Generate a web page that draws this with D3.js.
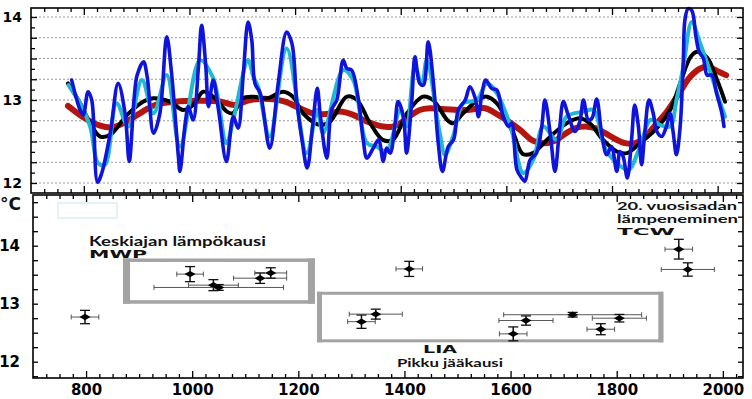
<!DOCTYPE html>
<html>
<head>
<meta charset="utf-8">
<script src="https://cdn.jsdelivr.net/npm/d3@7"></script>
<style>
  body { margin: 0; background: #fff; }
  svg { display: block; }
</style>
</head>
<body>
<script>
// reconstructions, [year, degC]
const redSeries = [[770,12.93],[802,12.78],[831,12.69],[853,12.67],[878,12.73],[906,12.84],[935,12.94],[973,12.98],[1020,12.99],[1060,12.98],[1085,12.94],[1115,13.00],[1158,13.01],[1181,12.98],[1209,12.90],[1234,12.84],[1260,12.83],[1285,12.86],[1310,12.82],[1336,12.74],[1366,12.68],[1385,12.68],[1399,12.72],[1418,12.81],[1436,12.88],[1455,12.90],[1484,12.89],[1525,12.88],[1560,12.90],[1582,12.83],[1607,12.73],[1626,12.64],[1650,12.51],[1669,12.48],[1692,12.51],[1711,12.59],[1730,12.66],[1749,12.68],[1768,12.66],[1787,12.60],[1806,12.53],[1825,12.48],[1844,12.48],[1862,12.55],[1881,12.69],[1904,12.86],[1929,13.10],[1948,13.28],[1967,13.38],[1980,13.40],[1999,13.35],[2016,13.30]];

const blackSeries = [[770,13.20],[793,12.96],[812,12.72],[831,12.56],[850,12.58],[882,12.82],[912,12.98],[931,13.02],[963,12.98],[988,12.88],[1007,12.94],[1026,13.10],[1045,13.04],[1071,12.86],[1082,12.84],[1101,13.02],[1120,13.04],[1147,13.02],[1177,13.10],[1196,13.04],[1215,12.84],[1247,12.70],[1266,12.74],[1298,13.04],[1317,13.00],[1342,12.72],[1366,12.52],[1385,12.52],[1412,12.84],[1442,13.04],[1461,13.00],[1488,12.76],[1499,12.72],[1518,12.84],[1550,13.02],[1563,13.04],[1582,12.96],[1613,12.60],[1631,12.35],[1650,12.36],[1677,12.52],[1701,12.66],[1726,12.76],[1739,12.78],[1758,12.72],[1783,12.52],[1809,12.38],[1828,12.36],[1853,12.48],[1885,12.66],[1910,12.88],[1929,13.20],[1948,13.51],[1961,13.58],[1980,13.51],[1999,13.24],[2014,12.98]];

const cyanSeries = [[771,13.18],[793,12.96],[812,12.68],[827,12.24],[840,12.22],[862,12.96],[884,12.68],[910,13.24],[932,12.84],[957,13.30],[982,12.44],[1020,13.48],[1045,13.26],[1070,12.48],[1083,12.76],[1111,13.48],[1121,13.28],[1130,13.16],[1152,12.56],[1184,13.62],[1222,12.36],[1242,12.88],[1253,12.60],[1291,13.36],[1310,13.24],[1336,12.48],[1354,12.44],[1373,12.38],[1399,12.88],[1411,12.68],[1427,13.40],[1440,13.18],[1449,13.48],[1474,12.60],[1484,12.34],[1499,12.56],[1518,12.96],[1544,13.00],[1563,13.20],[1582,13.08],[1608,12.68],[1632,12.12],[1651,12.28],[1670,12.68],[1695,12.52],[1714,12.80],[1746,12.86],[1765,12.88],[1787,12.42],[1809,12.24],[1831,12.16],[1853,12.44],[1873,12.76],[1891,12.70],[1910,12.68],[1922,13.00],[1935,13.40],[1951,13.94],[1967,13.68],[1986,13.34],[2001,13.04],[2014,12.80]];

const blueSeries = [[777,13.24],[793,12.88],[799,12.82],[808,13.10],[815,13.00],[826,12.01],[834,12.12],[850,12.60],[865,13.20],[878,12.84],[886,12.26],[895,13.00],[901,13.30],[913,13.46],[920,13.28],[932,12.60],[944,12.84],[957,13.76],[966,13.33],[979,12.32],[982,12.14],[992,12.72],[998,12.92],[1007,12.76],[1017,13.40],[1023,13.90],[1031,13.40],[1036,12.92],[1045,13.24],[1055,12.88],[1070,12.26],[1083,12.80],[1092,12.66],[1102,13.32],[1111,13.94],[1118,13.72],[1124,13.20],[1134,13.08],[1152,12.42],[1168,13.20],[1184,13.82],[1194,13.68],[1203,13.00],[1213,12.52],[1223,12.18],[1233,12.68],[1242,13.14],[1248,12.80],[1260,12.30],[1269,12.88],[1279,13.00],[1291,13.48],[1298,13.38],[1307,13.36],[1320,13.00],[1329,12.52],[1336,12.30],[1348,12.42],[1358,12.52],[1367,12.26],[1373,12.42],[1380,12.36],[1389,12.70],[1395,12.98],[1405,12.80],[1411,12.36],[1421,13.00],[1427,13.52],[1436,13.20],[1443,13.18],[1452,13.70],[1462,13.20],[1471,12.48],[1479,12.14],[1490,12.44],[1500,12.52],[1509,12.88],[1522,13.00],[1531,13.16],[1541,13.02],[1547,12.80],[1553,13.04],[1561,13.24],[1572,13.14],[1582,13.12],[1594,12.80],[1604,12.68],[1610,12.72],[1620,12.16],[1629,12.06],[1635,12.02],[1645,12.28],[1657,12.36],[1667,12.68],[1673,13.00],[1683,12.60],[1692,12.14],[1700,12.60],[1708,12.98],[1717,12.82],[1730,12.62],[1739,12.74],[1746,13.00],[1755,12.76],[1762,12.78],[1771,13.01],[1780,12.62],[1790,12.34],[1799,12.44],[1809,12.14],[1815,12.38],[1821,12.32],[1829,12.06],[1837,12.52],[1843,12.94],[1850,12.68],[1856,12.22],[1862,12.60],[1870,13.00],[1878,12.84],[1885,12.62],[1894,12.56],[1903,12.68],[1910,12.84],[1916,12.60],[1922,12.34],[1929,12.68],[1935,13.48],[1938,13.96],[1944,14.10],[1951,14.08],[1959,13.76],[1965,13.58],[1973,13.50],[1980,13.30],[1989,13.30],[1998,13.08],[2008,12.84],[2012,12.68]];

// proxy estimates with error bars
const proxyYear    = [798, 996, 1040, 1050, 1128, 1148, 1409, 1319, 1346, 1605, 1629, 1717, 1770, 1805, 1917, 1934];
const proxyTemp    = [12.77, 13.51, 13.32, 13.28, 13.44, 13.53, 13.60, 12.69, 12.82, 12.48, 12.71, 12.81, 12.56, 12.75, 13.94, 13.59];
const proxyYearErr = [26, 25, 47, 122, 50, 30, 25, 26, 50, 26, 51, 130, 26, 51, 26, 50];
const proxyTempErr = [0.115, 0.13, 0.095, 0.05, 0.09, 0.09, 0.13, 0.115, 0.086, 0.12, 0.08, 0.04, 0.095, 0.065, 0.17, 0.115];

// period boxes [year0, year1, t0, t1]
const mwpBox = [873, 1228, 13.03, 13.75];
const liaBox = [1238, 1885, 12.36, 13.18];

const yLabels = [12, 13, 14];
const xLabels = [800, 1000, 1200, 1400, 1600, 1800, 2000];

const W = 752, H = 399;
const svg = d3.select('body').append('svg').attr('width', W).attr('height', H);

const boxA = {left: 31, right: 743, top: 8, bottom: 193};
const boxB = {left: 33, right: 743, top: 195, bottom: 378};

const xA = d3.scaleLinear().domain([700, 2048]).range([boxA.left, boxA.right]);
const yA = d3.scaleLinear().domain([12, 14]).range([183, 17]);
const xB = d3.scaleLinear().domain([700, 2038]).range([boxB.left, boxB.right]);
const yB = d3.scaleLinear().domain([12, 14]).range([361.7, 245.7]);

const boldFont = 'DejaVu Sans, Verdana, sans-serif';
const textFont = 'Lato, Open Sans, sans-serif';

// ---------- top panel ----------
const gA = svg.append('g');

gA.selectAll('.grid')
  .data(d3.range(12, 14.01, 0.25))
  .enter().append('line')
  .attr('x1', boxA.left).attr('x2', boxA.right)
  .attr('y1', d => yA(d)).attr('y2', d => yA(d))
  .attr('stroke', '#9a9a9a').attr('stroke-width', 1)
  .attr('stroke-dasharray', '2,2');

function tickAxis(g, axis) {
  g.call(axis);
  g.select('.domain').remove();
  g.selectAll('line').attr('stroke', '#000').attr('stroke-width', 1.3);
}

// y ticks, both sides
const yTicksMajor = d3.range(12, 14.01, 0.25);
const yTicksMinor = d3.range(12.125, 14, 0.25);
gA.append('g').attr('transform', 'translate(' + boxA.left + ',0)')
  .call(g => tickAxis(g, d3.axisLeft(yA).tickValues(yTicksMajor).tickSize(-6).tickFormat(d => yLabels.includes(d) ? d : '')))
  .call(g => g.selectAll('text').attr('x', -9).attr('font-family', boldFont).attr('font-weight', 'bold').attr('font-size', 14).attr('fill', '#000'));
gA.append('g').attr('transform', 'translate(' + boxA.left + ',0)')
  .call(g => tickAxis(g, d3.axisLeft(yA).tickValues(yTicksMinor).tickSize(-4).tickFormat('')));
gA.append('g').attr('transform', 'translate(' + boxA.right + ',0)')
  .call(g => tickAxis(g, d3.axisRight(yA).tickValues(yTicksMajor).tickSize(-6).tickFormat('')));
gA.append('g').attr('transform', 'translate(' + boxA.right + ',0)')
  .call(g => tickAxis(g, d3.axisRight(yA).tickValues(yTicksMinor).tickSize(-4).tickFormat('')));

// x ticks, top and bottom
const xTicksMinor = d3.range(725, 2040, 25).filter(d => d % 200 !== 0);
gA.append('g').attr('transform', 'translate(0,' + boxA.top + ')')
  .call(g => tickAxis(g, d3.axisTop(xA).tickValues(xLabels).tickSize(-7).tickFormat('')));
gA.append('g').attr('transform', 'translate(0,' + boxA.top + ')')
  .call(g => tickAxis(g, d3.axisTop(xA).tickValues(xTicksMinor).tickSize(-4).tickFormat('')));
gA.append('g').attr('transform', 'translate(0,' + boxA.bottom + ')')
  .call(g => tickAxis(g, d3.axisBottom(xA).tickValues(xLabels).tickSize(-7).tickFormat('')));
gA.append('g').attr('transform', 'translate(0,' + boxA.bottom + ')')
  .call(g => tickAxis(g, d3.axisBottom(xA).tickValues(xTicksMinor).tickSize(-4).tickFormat('')));

const lineA = d3.line()
  .x(d => xA(d[0]))
  .y(d => yA(d[1]))
  .curve(d3.curveCatmullRom.alpha(0.5));

const curves = [
  {data: redSeries, color: '#b5150f', width: 6},
  {data: blackSeries, color: '#000000', width: 4},
  {data: cyanSeries, color: '#22b8d2', width: 4},
  {data: blueSeries, color: '#0f14dc', width: 3.6}
];
gA.selectAll('.curve')
  .data(curves)
  .enter().append('path')
  .attr('d', d => lineA(d.data))
  .attr('fill', 'none')
  .attr('stroke', d => d.color)
  .attr('stroke-width', d => d.width)
  .attr('stroke-linejoin', 'round')
  .attr('stroke-linecap', 'round');

gA.append('rect')
  .attr('x', boxA.left).attr('y', boxA.top)
  .attr('width', boxA.right - boxA.left).attr('height', boxA.bottom - boxA.top)
  .attr('fill', 'none').attr('stroke', '#000').attr('stroke-width', 1.6);

// ---------- bottom panel ----------
const gB = svg.append('g');

// faint leftover legend frame
gB.append('rect')
  .attr('x', 58).attr('y', 203).attr('width', 59).attr('height', 15)
  .attr('fill', 'none').attr('stroke', '#dcedf5').attr('stroke-width', 1.5);

const yTicksB = d3.range(11.75, 14.8, 0.25);
gB.append('g').attr('transform', 'translate(' + boxB.left + ',0)')
  .call(g => tickAxis(g, d3.axisLeft(yB).tickValues(yTicksB).tickSize(-5).tickFormat(d => yLabels.includes(d) ? d : '')))
  .call(g => g.selectAll('text').attr('x', -13).attr('font-family', boldFont).attr('font-weight', 'bold').attr('font-size', 15).attr('fill', '#000'));
gB.append('g').attr('transform', 'translate(' + boxB.right + ',0)')
  .call(g => tickAxis(g, d3.axisRight(yB).tickValues(yTicksB).tickSize(-5).tickFormat('')));

gB.append('g').attr('transform', 'translate(0,' + boxB.top + ')')
  .call(g => tickAxis(g, d3.axisTop(xB).tickValues(xLabels).tickSize(-7).tickFormat('')));
gB.append('g').attr('transform', 'translate(0,' + boxB.top + ')')
  .call(g => tickAxis(g, d3.axisTop(xB).tickValues(xTicksMinor).tickSize(-4).tickFormat('')));
gB.append('g').attr('transform', 'translate(0,' + boxB.bottom + ')')
  .call(g => tickAxis(g, d3.axisBottom(xB).tickValues(xLabels).tickSize(-7).tickFormat(d => d)))
  .call(g => g.selectAll('text').attr('y', 6).attr('dy', '0.71em').attr('font-family', boldFont).attr('font-weight', 'bold').attr('font-size', 15).attr('fill', '#000'));
gB.append('g').attr('transform', 'translate(0,' + boxB.bottom + ')')
  .call(g => tickAxis(g, d3.axisBottom(xB).tickValues(xTicksMinor).tickSize(-4).tickFormat('')));

gB.append('rect')
  .attr('x', boxB.left).attr('y', boxB.top)
  .attr('width', boxB.right - boxB.left).attr('height', boxB.bottom - boxB.top)
  .attr('fill', 'none').attr('stroke', '#000').attr('stroke-width', 1.6);

// period boxes: thin top/bottom, thick sides
function periodBox(b, side, edge) {
  const x0 = xB(b[0]), x1 = xB(b[1]), y0 = yB(b[3]), y1 = yB(b[2]);
  gB.append('rect')
    .attr('x', x0).attr('y', y0).attr('width', x1 - x0).attr('height', y1 - y0)
    .attr('fill', '#fff').attr('stroke', '#a3a3a3').attr('stroke-width', edge);
  [x0 + side / 2 - edge / 2, x1 - side / 2 + edge / 2].forEach(x => {
    gB.append('line')
      .attr('x1', x).attr('x2', x).attr('y1', y0 - edge / 2).attr('y2', y1 + edge / 2)
      .attr('stroke', '#a3a3a3').attr('stroke-width', side);
  });
}
periodBox(mwpBox, 7, 3.5);
periodBox(liaBox, 5, 3);

// error bars and markers
const pts = proxyYear.map((y, i) => ({
  year: y, temp: proxyTemp[i], ex: proxyYearErr[i], ey: proxyTempErr[i]
}));
const ptG = gB.selectAll('.pt').data(pts).enter().append('g');

ptG.append('line')
  .attr('x1', d => xB(d.year - d.ex)).attr('x2', d => xB(d.year + d.ex))
  .attr('y1', d => yB(d.temp)).attr('y2', d => yB(d.temp))
  .attr('stroke', '#444').attr('stroke-width', 0.9);
[-1, 1].forEach(s => {
  ptG.append('line')
    .attr('x1', d => xB(d.year + s * d.ex)).attr('x2', d => xB(d.year + s * d.ex))
    .attr('y1', d => yB(d.temp) - 2.5).attr('y2', d => yB(d.temp) + 2.5)
    .attr('stroke', '#444').attr('stroke-width', 0.9);
  ptG.append('line')
    .attr('x1', d => xB(d.year) - 5).attr('x2', d => xB(d.year) + 5)
    .attr('y1', d => yB(d.temp + s * d.ey)).attr('y2', d => yB(d.temp + s * d.ey))
    .attr('stroke', '#111').attr('stroke-width', 1.3);
});
ptG.append('line')
  .attr('x1', d => xB(d.year)).attr('x2', d => xB(d.year))
  .attr('y1', d => yB(d.temp + d.ey)).attr('y2', d => yB(d.temp - d.ey))
  .attr('stroke', '#111').attr('stroke-width', 1.5);
ptG.append('path')
  .attr('transform', d => 'translate(' + xB(d.year) + ',' + yB(d.temp) + ')')
  .attr('d', 'M-5.5,0L0,-3.2L5.5,0L0,3.2Z')
  .attr('fill', '#000');

// annotations: each block is one text with a line per tspan
function block(lines) {
  const t = svg.append('text').attr('fill', '#111');
  lines.forEach(l => {
    const s = t.append('tspan')
      .attr('x', l.x).attr('y', l.y)
      .attr('font-family', l.family)
      .attr('font-weight', 'bold')
      .attr('font-size', l.size)
      .text(l.txt);
    if (l.len) s.attr('textLength', l.len).attr('lengthAdjust', 'spacingAndGlyphs');
  });
}
block([{x: 0, y: 210, txt: '°C', family: boldFont, size: 17}]);
block([
  {x: 89, y: 245.5, txt: 'Keskiajan lämpökausi', family: textFont, size: 13, len: 177},
  {x: 89, y: 257.5, txt: 'MWP', family: boldFont, size: 10, len: 58}
]);
block([
  {x: 423, y: 353, txt: 'LIA', family: boldFont, size: 10, len: 34},
  {x: 397, y: 366.5, txt: 'Pikku jääkausi', family: textFont, size: 11, len: 106}
]);
block([
  {x: 617, y: 209.5, txt: '20. vuosisadan', family: textFont, size: 11, len: 120},
  {x: 617, y: 223, txt: 'lämpeneminen', family: textFont, size: 11, len: 121},
  {x: 617, y: 234.5, txt: 'TCW', family: boldFont, size: 9, len: 58}
]);
</script>
</body>
</html>
